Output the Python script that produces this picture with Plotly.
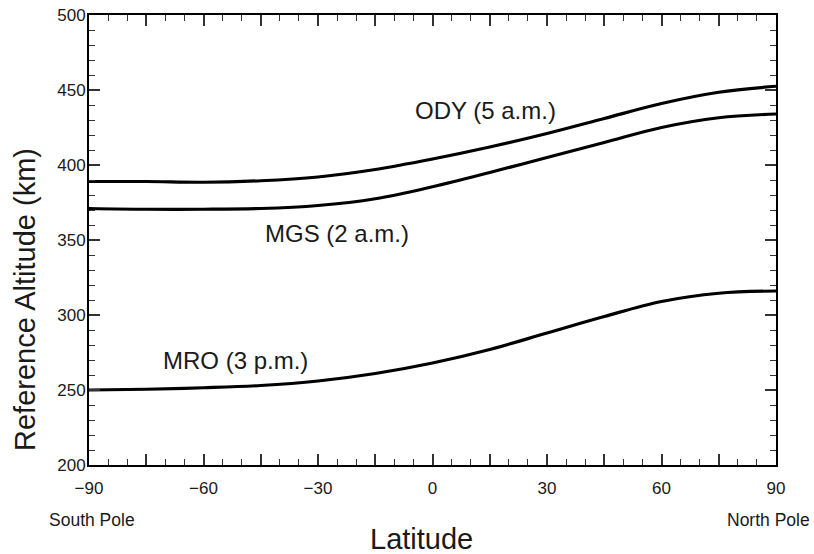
import plotly.graph_objects as go

latitude = [-90, -75, -60, -45, -30, -15, 0, 15, 30, 45, 60, 75, 90]
ody_alt = [389, 389, 388.5, 389.5, 392, 397, 404, 412, 421, 431, 441, 448.5, 452.5]
mgs_alt = [371, 370.5, 370.5, 371, 373, 377.5, 385.5, 395, 405, 415, 425, 431.5, 434]
mro_alt = [250, 250.5, 251.5, 253, 256, 261, 268, 277, 288, 299, 309, 314.5, 316]

series_names = ["ODY (5 a.m.)", "MGS (2 a.m.)", "MRO (3 p.m.)"]
label_pos = [(14, 436.5), (-25, 354.5), (-51.5, 270)]

x_tickvals = [-90, -75, -60, -45, -30, -15, 0, 15, 30, 45, 60, 75, 90]
x_ticktext = ["\u221290", "", "\u221260", "", "\u221230", "", "0", "", "30", "", "60", "", "90"]
y_tickvals = [200, 250, 300, 350, 400, 450, 500]

FONT = "Liberation Sans, Arial, sans-serif"
W, H = 814, 554
L, R, T, B = 89, 38, 15, 89

pw = W - L - R
ph = H - T - B


def py(pixel_y):
    return (T + ph - pixel_y) / ph


def px(pixel_x):
    return (pixel_x - L) / pw


fig = go.Figure()
for name, ys in zip(series_names, [ody_alt, mgs_alt, mro_alt]):
    fig.add_trace(go.Scatter(x=latitude, y=ys, mode="lines", name=name,
                             line=dict(color="black", width=3.2, shape="spline", smoothing=1.0),
                             showlegend=False, hoverinfo="skip"))

for name, (lx, ly) in zip(series_names, label_pos):
    fig.add_annotation(x=lx, y=ly, text=name, showarrow=False,
                       font=dict(family=FONT, size=24, color="#1a1a1a"),
                       xanchor="center", yanchor="middle")

fig.add_annotation(xref="paper", yref="paper", x=px(25), y=py(300),
                   text="Reference Altitude (km)", textangle=-90, showarrow=False,
                   font=dict(family=FONT, size=29, color="#1a1a1a"),
                   xanchor="center", yanchor="middle")
fig.add_annotation(xref="paper", yref="paper", x=px(421), y=py(539),
                   text="Latitude", showarrow=False,
                   font=dict(family=FONT, size=29, color="#1a1a1a"),
                   xanchor="center", yanchor="middle")
fig.add_annotation(xref="paper", yref="paper", x=px(47), y=py(520),
                   text="South Pole", showarrow=False,
                   font=dict(family=FONT, size=17.5, color="#1a1a1a"),
                   xanchor="left", yanchor="middle")
fig.add_annotation(xref="paper", yref="paper", x=px(812), y=py(520),
                   text="North Pole", showarrow=False,
                   font=dict(family=FONT, size=17.5, color="#1a1a1a"),
                   xanchor="right", yanchor="middle")

axis_common = dict(showgrid=False, zeroline=False, showline=True, linecolor="black",
                   linewidth=2, mirror="ticks", ticks="inside", ticklen=11, tickwidth=1.5,
                   tickcolor="#333333", automargin=False,
                   tickfont=dict(family=FONT, size=17, color="#1a1a1a"))

fig.update_xaxes(range=[-90, 90], tickvals=x_tickvals, ticktext=x_ticktext,
                 ticklabelstandoff=7,
                 minor=dict(dtick=5, tick0=0, ticks="inside", ticklen=6, tickwidth=1.2,
                            tickcolor="#333333"),
                 **axis_common)
fig.update_yaxes(range=[200, 500], tickvals=y_tickvals, ticklabelstandoff=-2,
                 minor=dict(dtick=10, tick0=200, ticks="inside", ticklen=6, tickwidth=1.2,
                            tickcolor="#333333"),
                 **axis_common)

fig.update_layout(width=W, height=H, margin=dict(l=L, r=R, t=T, b=B),
                  paper_bgcolor="white", plot_bgcolor="white",
                  font=dict(family=FONT))

fig.write_html("out.html", config={"displayModeBar": False},
               post_script="document.body.style.margin='0';")
